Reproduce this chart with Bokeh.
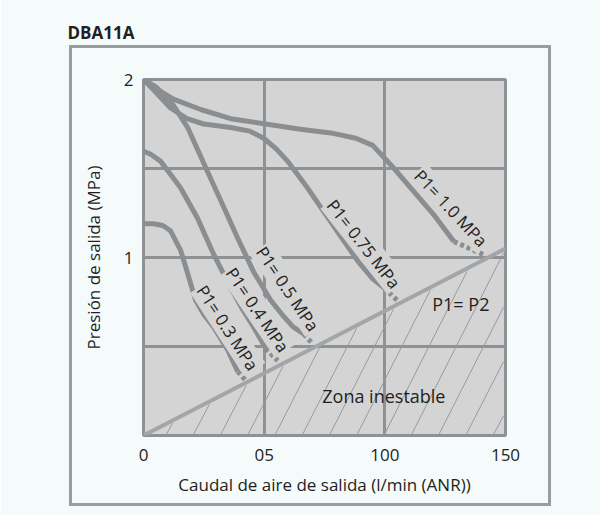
from bokeh.plotting import figure
from bokeh.models import (FixedTicker, Range1d, ColumnDataSource, InlineStyleSheet)
from bokeh.core.properties import value
from bokeh.embed import file_html
from bokeh.resources import INLINE

# ---------------- data ----------------
title_text = "DBA11A"
x_label = "Caudal de aire de salida (l/min (ANR))"
y_label = "Presión de salida (MPa)"
x_ticks = [0, 50, 100, 150]
x_tick_labels = ["0", "05", "100", "150"]
y_ticks = [1, 2]
y_tick_labels = ["1", "2"]
grid_x = [50, 100]
grid_y = [0.5, 1.0, 1.5]

# solid curve points (flow, pressure)
p10_x = [0, 5, 12.4, 24, 36.1, 50.6, 65, 77.6, 88, 95, 102.5, 110.8, 120.3, 128.6]
p10_y = [2.0, 1.95, 1.89, 1.83, 1.78, 1.75, 1.72, 1.70, 1.67, 1.63, 1.52, 1.39, 1.24, 1.09]
p10_end_x = [128.6, 141.9]
p10_end_y = [1.09, 1.01]

p075_x = [0, 5, 11.2, 18, 24.9, 36.1, 44, 49.8, 55, 59.8, 68, 77.6, 88.8, 95, 99.6]
p075_y = [2.0, 1.93, 1.84, 1.78, 1.75, 1.73, 1.71, 1.67, 1.61, 1.54, 1.39, 1.20, 0.98, 0.88, 0.83]
p075_end_x = [99.6, 105.4]
p075_end_y = [0.83, 0.756]

p05_x = [0, 5, 11.2, 18.3, 26.6, 32, 39, 45.6, 52.7, 58, 62, 66.4]
p05_y = [2.0, 1.96, 1.88, 1.73, 1.48, 1.32, 1.11, 0.92, 0.76, 0.67, 0.61, 0.57]
p05_end_x = [66.4, 70.1]
p05_end_y = [0.57, 0.515]

p04_x = [0, 3, 7.1, 11, 15.4, 22.4, 29, 36.1, 41, 45.6, 50.6]
p04_y = [1.597, 1.58, 1.54, 1.47, 1.39, 1.22, 1.02, 0.83, 0.71, 0.61, 0.49]
p04_end_x = [50.6, 55.6]
p04_end_y = [0.49, 0.42]

p03_x = [0, 4.1, 8, 11.2, 15.4, 18.3, 21.6, 25, 29, 34.9, 39]
p03_y = [1.19, 1.19, 1.18, 1.15, 1.04, 0.91, 0.76, 0.68, 0.61, 0.48, 0.36]
p03_end_x = [39, 42.3]
p03_end_y = [0.36, 0.31]

# P1 = P2 boundary line
limit_x = [0, 150]
limit_y = [0, 1.05]

curve_labels = ["P1= 1.0 MPa", "P1= 0.75 MPa", "P1= 0.5 MPa", "P1= 0.4 MPa", "P1= 0.3 MPa"]
zone_label = "Zona inestable"
line_label = "P1= P2"

# ---------------- styling ----------------
BG = "#f5fafb"
FRAME = "#d4d4d4"
GRID = "#8e9295"
CURVE = "#8a8e91"
LIMIT = "#a3a6a9"
TXT = "#231f20"
FONT = "Open Sans"

D = 14                      # canvas is shifted up by D px (room for the title panel)
W, H = 600, 515 + D
p = figure(width=W, height=H, output_backend="svg", toolbar_location=None,
           x_range=Range1d(0, 150), y_range=Range1d(0, 2),
           min_border_left=143, min_border_right=W - 505, min_border_top=78 + D,
           min_border_bottom=H - (435 + D))
p.styles = {"margin-top": f"-{D}px"}
p.background_fill_color = FRAME
p.border_fill_color = BG
p.outline_line_color = GRID
p.outline_line_width = 3

# outer frame box drawn with CSS over the canvas
p.stylesheets = [InlineStyleSheet(css=f"""
:host {{ position: relative; }}
:host::after {{
  content: "";
  position: absolute;
  left: 68.5px; top: {44.5 + D}px;
  width: 482px; height: 461px;
  box-sizing: border-box;
  border: 3px solid #9a9d9f;
  pointer-events: none;
}}
""")]

# title
p.title.text = title_text
p.title.align = "left"
p.title.vertical_align = "top"
p.title.offset = -76
p.title.standoff = 68
p.title.text_font = FONT
p.title.text_font_size = "17px"
p.title.text_font_style = "bold"
p.title.text_color = TXT

# grid
p.xgrid.ticker = FixedTicker(ticks=grid_x)
p.ygrid.ticker = FixedTicker(ticks=grid_y)
for g in (p.xgrid, p.ygrid):
    g.grid_line_color = GRID
    g.grid_line_width = 3

# axes
for ax in (p.xaxis, p.yaxis):
    ax.axis_line_color = None
    ax.major_tick_line_color = None
    ax.minor_tick_line_color = None
    ax.major_label_text_font = FONT
    ax.major_label_text_font_size = "17px"
    ax.major_label_text_color = TXT
    ax.axis_label_text_font = FONT
    ax.axis_label_text_font_size = "17px"
    ax.axis_label_text_font_style = "normal"
    ax.axis_label_text_color = TXT
p.xaxis.ticker = FixedTicker(ticks=x_ticks)
p.xaxis.major_label_overrides = dict(zip(x_ticks, x_tick_labels))
p.yaxis.ticker = FixedTicker(ticks=y_ticks)
p.yaxis.major_label_overrides = dict(zip(y_ticks, y_tick_labels))
p.xaxis.axis_label = x_label
p.yaxis.axis_label = y_label
p.xaxis.major_label_standoff = 7
p.xaxis.axis_label_standoff = 9
p.yaxis.major_label_standoff = 4
p.yaxis.axis_label_standoff = 16

# hatch of the unstable zone (below the P1=P2 line)
lim_slope = limit_y[1] / limit_x[1]
hatch_slope = 0.027
xs_h, ys_h = [], []
xb = 9.5
while xb < 150:
    xt = hatch_slope * xb / (hatch_slope - lim_slope)
    if xt > 150:
        xt = 150
    yt = hatch_slope * (xt - xb)
    xs_h.append([xb, xt - 0.8])
    ys_h.append([0.008, yt - 0.8 * hatch_slope])
    xb += 11.3
p.multi_line(xs_h, ys_h, line_color="#979a9d", line_width=1)

# curves
curves = [(p10_x, p10_y, p10_end_x, p10_end_y),
          (p075_x, p075_y, p075_end_x, p075_end_y),
          (p05_x, p05_y, p05_end_x, p05_end_y),
          (p04_x, p04_y, p04_end_x, p04_end_y),
          (p03_x, p03_y, p03_end_x, p03_end_y)]
for cx, cy, ex, ey in curves:
    p.line(cx, cy, line_color=CURVE, line_width=5, line_join="round")
    p.line(ex, ey, line_color=CURVE, line_width=5, line_dash="4 3")

p.line(limit_x, limit_y, line_color=LIMIT, line_width=4)

# curve labels
lab_src = ColumnDataSource(dict(
    x=[127.4, 91.3, 59.8, 47.3, 34.9],
    y=[1.277, 1.076, 0.824, 0.706, 0.605],
    text=curve_labels,
    angle=[-47, -52, -56, -56, -57],
))
p.text("x", "y", text="text", angle="angle", angle_units="deg", source=lab_src,
       text_font=value(FONT), text_font_size="17px", text_color=TXT,
       text_align="center", text_baseline="middle",
       background_fill_color=FRAME, padding=1)

p.text([99.6], [0.224], text=[zone_label], text_font=value(FONT), text_font_size="18px",
       text_color=TXT, text_align="center", text_baseline="middle")
p.text([131.5], [0.74], text=[line_label], text_font=value(FONT), text_font_size="18px",
       text_color=TXT, text_align="center", text_baseline="middle")

open("out.html", "w").write(file_html(p, INLINE))
